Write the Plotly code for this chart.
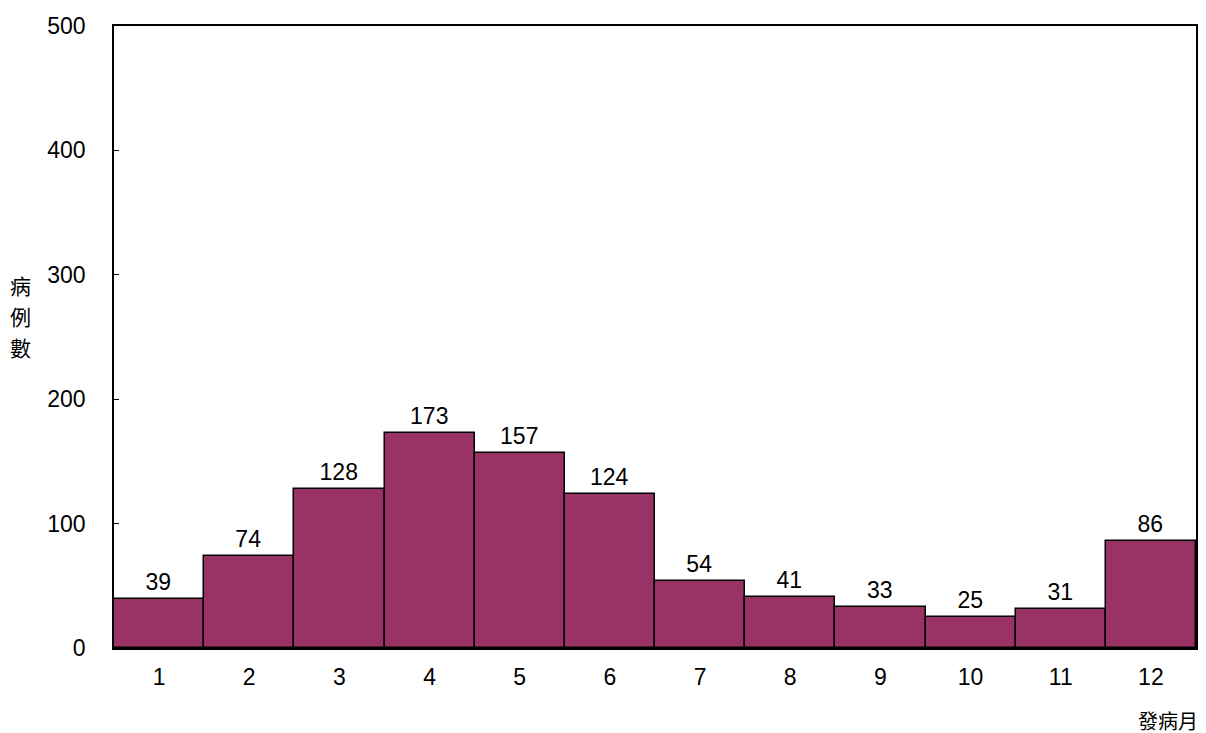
import plotly.graph_objects as go

months = [str(m) for m in range(1, 13)]
cases = [39, 74, 128, 173, 157, 124, 54, 41, 33, 25, 31, 86]
y_ticks = [0, 100, 200, 300, 400, 500]
y_title_chars = ['病', '例', '數']
x_title = '發病月'

fig = go.Figure(go.Bar(
    x=months, y=cases,
    marker=dict(color='#993366', line=dict(color='black', width=1.5)),
    text=cases, textposition='outside',
    textfont=dict(size=23, color='black'),
    cliponaxis=False,
))

# la page html a une marge de 8px, on compense dans les marges
fig.update_layout(
    width=1206, height=733,
    margin=dict(l=106, r=18, t=18, b=93),
    plot_bgcolor='white', paper_bgcolor='white',
    bargap=0,
    font=dict(family='Liberation Sans, Arial', size=23, color='black'),
    showlegend=False,
)
fig.update_xaxes(showline=True, linecolor='black', linewidth=1.5, mirror=True,
                 ticks='', tickfont=dict(size=23), ticklabelstandoff=8, automargin=False)
fig.update_yaxes(range=[0, 500], tickvals=y_ticks, showline=True, linecolor='black',
                 linewidth=1.5, mirror=True, showgrid=False, zeroline=False,
                 ticks='inside', ticklen=5, tickcolor='black', tickfont=dict(size=23),
                 ticklabelstandoff=22, automargin=False)

# titre vertical de l'axe y, un caractère par ligne
for i, ch in enumerate(y_title_chars):
    fig.add_annotation(text=ch, xref='paper', yref='paper', x=-0.086, y=0.5836 - i * 0.0499,
                       xanchor='center', yanchor='middle', showarrow=False,
                       font=dict(family='Noto Sans CJK TC', size=21))
fig.add_annotation(text=x_title, xref='paper', yref='paper', x=1.004, y=-0.116,
                   xanchor='right', yanchor='middle', showarrow=False,
                   font=dict(family='Noto Sans CJK TC', size=20))

fig.write_html("out.html")
